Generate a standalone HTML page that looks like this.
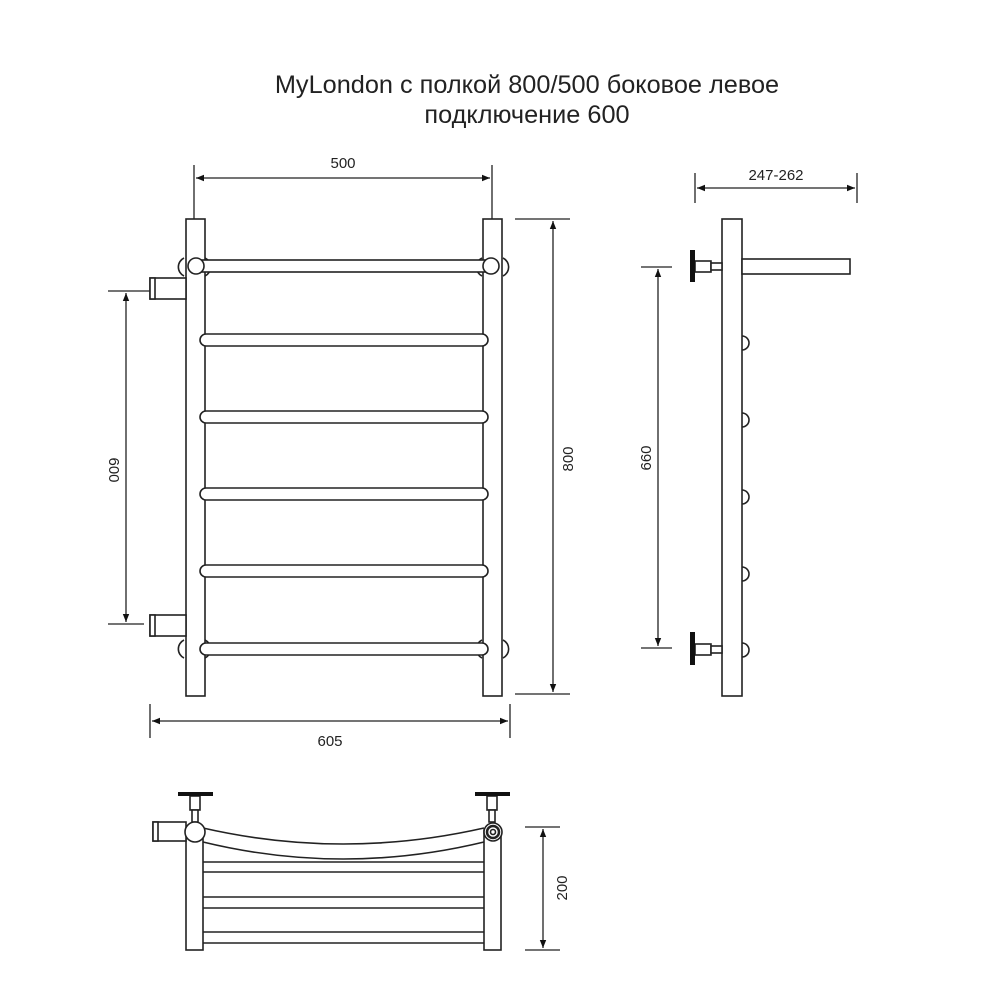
<!DOCTYPE html>
<html><head><meta charset="utf-8"><style>body{margin:0;background:#fff}svg{display:block}</style></head><body>
<svg width="1000" height="1000" viewBox="0 0 1000 1000" xmlns="http://www.w3.org/2000/svg" font-family="Liberation Sans, sans-serif">
<defs>
<marker id="a" viewBox="0 0 10 10" refX="10" refY="5" markerWidth="10" markerHeight="8" markerUnits="userSpaceOnUse" orient="auto-start-reverse"><path d="M0,1 L10,5 L0,9z" fill="#111"/></marker>
</defs>
<g fill="#222" font-size="25.3" text-anchor="middle">
<text x="527" y="93">MyLondon с полкой  800/500 боковое левое</text>
<text x="527" y="123">подключение 600</text>
</g>
<g stroke="#222" stroke-width="1.6" fill="#fff">
<path d="M184,258 a10,10 0 0 0 0,18 M205,258 a10,10 0 0 1 0,18 M482,258 a10,10 0 0 0 0,18 M503,258 a10,10 0 0 1 0,18" fill="none"/>
<path d="M184,640 a10,10 0 0 0 0,18 M205,640 a10,10 0 0 1 0,18 M482,640 a10,10 0 0 0 0,18 M503,640 a10,10 0 0 1 0,18" fill="none"/>
<rect x="186" y="219" width="19" height="477"/>
<rect x="483" y="219" width="19" height="477"/>
<rect x="196" y="260" width="295" height="12"/>
<circle cx="196" cy="266" r="8"/><circle cx="491" cy="266" r="8"/>
<rect x="200" y="334" width="288" height="12" rx="6"/>
<rect x="200" y="411" width="288" height="12" rx="6"/>
<rect x="200" y="488" width="288" height="12" rx="6"/>
<rect x="200" y="565" width="288" height="12" rx="6"/>
<rect x="200" y="643" width="288" height="12" rx="6"/>
<rect x="150" y="278" width="36" height="21"/><rect x="150" y="278" width="5" height="21"/>
<rect x="150" y="615" width="36" height="21"/><rect x="150" y="615" width="5" height="21"/>
<rect x="722" y="219" width="20" height="477"/>
<rect x="742" y="259" width="108" height="15"/>
<rect x="695" y="261" width="16" height="11"/><rect x="711" y="263" width="11" height="7"/>
<rect x="695" y="644" width="16" height="11"/><rect x="711" y="646" width="11" height="7"/>
<path d="M742,336 a7,7 0 0 1 0,14 M742,413 a7,7 0 0 1 0,14 M742,490 a7,7 0 0 1 0,14 M742,567 a7,7 0 0 1 0,14 M742,643 a7,7 0 0 1 0,14" fill="none"/>
<rect x="186" y="830" width="17" height="120"/>
<rect x="484" y="830" width="17" height="120"/>
<path d="M203,828 Q343,860 484,828 M203,842 Q343,876 484,842" fill="none"/>
<path d="M203,862H484M203,872H484M203,897H484M203,908H484M203,932H484M203,943H484" fill="none"/>
<rect x="153" y="822" width="33" height="19"/><rect x="153" y="822" width="5" height="19"/>
<rect x="190" y="796" width="10" height="14"/><rect x="192" y="810" width="6" height="12"/>
<rect x="487" y="796" width="10" height="14"/><rect x="489" y="810" width="6" height="12"/>
<circle cx="195" cy="832" r="10"/>
<circle cx="493" cy="832" r="9"/><circle cx="493" cy="832" r="6" stroke-width="2.5"/><circle cx="493" cy="832" r="2.5"/>
</g>
<g fill="#111">
<rect x="690" y="250" width="5" height="32"/><rect x="690" y="632" width="5" height="33"/>
<rect x="178" y="792" width="35" height="4"/><rect x="475" y="792" width="35" height="4"/>
</g>
<g stroke="#222" stroke-width="1.3" fill="none">
<path d="M194,165V219M492,165V219M515,219H570M515,694H570M108,291H150M108,624H144M150,704V738M510,704V738M641,267H672M641,648H672M695,173V203M857,173V203M525,827H560M525,950H560"/>
</g>
<g stroke="#222" stroke-width="1.3" marker-start="url(#a)" marker-end="url(#a)">
<line x1="196" y1="178" x2="490" y2="178"/>
<line x1="553" y1="221" x2="553" y2="692"/>
<line x1="126" y1="293" x2="126" y2="622"/>
<line x1="152" y1="721" x2="508" y2="721"/>
<line x1="658" y1="269" x2="658" y2="646"/>
<line x1="697" y1="188" x2="855" y2="188"/>
<line x1="543" y1="829" x2="543" y2="948"/>
</g>
<g fill="#222" font-size="15" text-anchor="middle">
<text x="343" y="168">500</text>
<text x="330" y="746">605</text>
<text x="776" y="180">247-262</text>
<text transform="translate(573,459) rotate(-90)">800</text>
<text transform="translate(109,470) rotate(90)">600</text>
<text transform="translate(651,458) rotate(-90)">660</text>
<text transform="translate(567,888) rotate(-90)">200</text>
</g>
</svg>
</body></html>
